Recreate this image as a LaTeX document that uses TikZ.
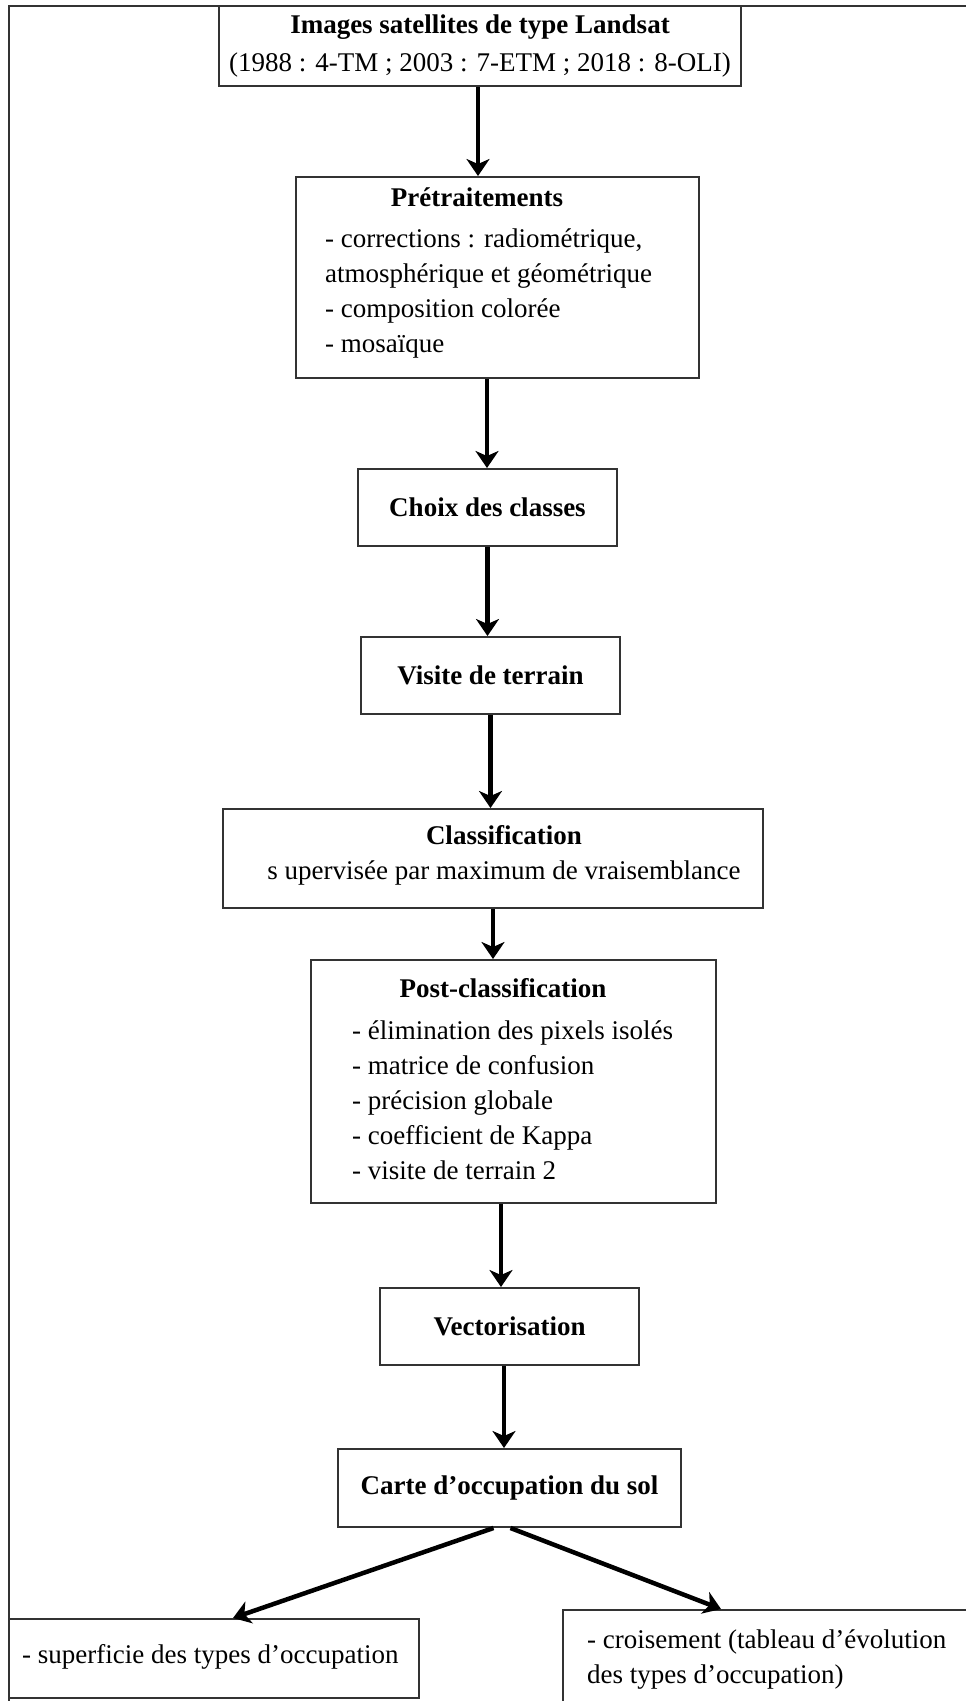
\documentclass[tikz,border=0pt]{standalone}
\usepackage{fontspec}
\setmainfont{Liberation Serif}
\usetikzlibrary{arrows.meta}

\tikzset{
  box/.style={draw=black!80, line width=2pt, inner sep=0pt},
  flow/.style={line width=4.5pt, -{Stealth[length=17pt,width=23pt,inset=5pt]}},
  txt/.style={font=\fontsize{27}{35}\selectfont, inner sep=0pt},
  ttl/.style={txt, font=\fontsize{27}{35}\selectfont\bfseries},
  lst/.style={txt, align=left, anchor=west},
}

\begin{document}
\begin{tikzpicture}[x=1pt, y=-1pt]
\useasboundingbox (0,0) rectangle (966,1701);
\clip (0,0) rectangle (966,1701);
\fill[white] (0,0) rectangle (966,1701);
% outer frame, open on the right and at the bottom
\draw[black!80, line width=2pt] (9,1710) |- (980,6);

% boxes of the chain
\node[box, minimum width=522pt, minimum height=80pt] (top) at (480,46) {};
\node[box, minimum width=403pt, minimum height=201pt] (pre) at (497.5,277.5) {};
\node[box, minimum width=259pt, minimum height=77pt] (choix) at (487.5,507.5) {};
\node[box, minimum width=259pt, minimum height=77pt] (visite) at (490.5,675.5) {};
\node[box, minimum width=540pt, minimum height=99pt] (classif) at (493,858.5) {};
\node[box, minimum width=405pt, minimum height=243pt] (post) at (513.5,1081.5) {};
\node[box, minimum width=259pt, minimum height=77pt] (vecto) at (509.5,1326.5) {};
\node[box, minimum width=343pt, minimum height=78pt] (carte) at (509.5,1488) {};
\node[box, minimum width=410pt, minimum height=79pt] (bilan) at (214,1658.5) {};
\node[box, minimum width=430pt, minimum height=120pt] (croise) at (778,1670) {};

% texts
\node[txt, align=center] (topT) at (480,46)
  {\textbf{Images satellites de type Landsat}\\[3pt](1988 : 4-TM ; 2003 : 7-ETM ; 2018 : 8-OLI)};
\node[ttl] (preT) at (477,197) {Prétraitements};
\node[lst] (preL) at (325,293)
  {- corrections : radiométrique,\\atmosphérique et géométrique\\- composition colorée\\- mosaïque};
\node[ttl] (choixT) at (choix) {Choix des classes};
\node[ttl] (visiteT) at (visite) {Visite de terrain};
\node[txt, align=center] (classifT) at (504,855)
  {\textbf{Classification}\\s upervisée par maximum de vraisemblance};
\node[ttl] (postT) at (503,988) {Post-classification};
\node[lst] (postL) at (352,1100)
  {- élimination des pixels isolés\\- matrice de confusion\\- précision globale\\- coefficient de Kappa\\- visite de terrain 2};
\node[ttl] (vectoT) at (vecto) {Vectorisation};
\node[ttl] (carteT) at (carte) {Carte d’occupation du sol};
\node[lst] (bilanL) at (22,1657) {- superficie des types d’occupation};
\node[lst] (croiseL) at (587,1660)
  {- croisement (tableau d’évolution\\des types d’occupation)};

% vertical arrows
\foreach \a/\b/\dx in {top/pre/-2, pre/choix/-10.5, choix/visite/0, visite/classif/0,
                       classif/post/0, post/vecto/-12.5, vecto/carte/-5.5}{
  \draw[flow] ([xshift=\dx pt]\a.south) -- ([xshift=\dx pt]\a.south |- \b.north);
}
% the two branches
\draw[flow] ([xshift=-16pt]carte.south) -- ([xshift=19pt]bilan.north);
\draw[flow] ([xshift=1pt]carte.south) -- ([xshift=159pt]croise.north west);
\end{tikzpicture}
\end{document}
